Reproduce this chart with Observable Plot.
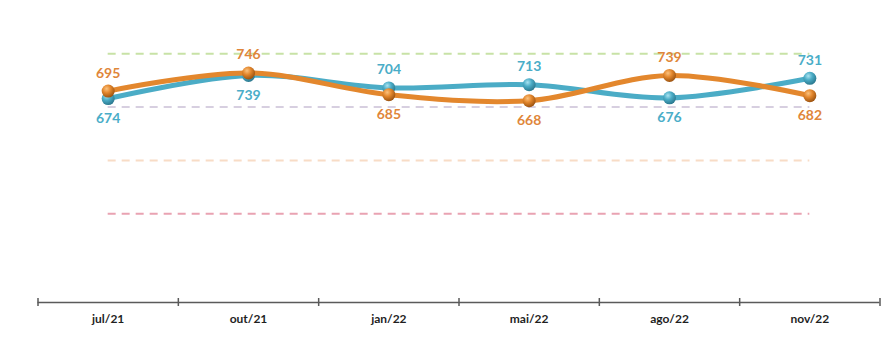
<!DOCTYPE html>
<html><head><meta charset="utf-8">
<script src="https://cdn.jsdelivr.net/npm/d3@7"></script>
<script src="https://cdn.jsdelivr.net/npm/@observablehq/plot@0.6"></script>
<style>body{margin:0;background:#fff} svg{display:block}</style>
</head><body><div id="chart"></div>
<script>
const categories = ["jul/21","out/21","jan/22","mai/22","ago/22","nov/22"];
const seriesBlue = [674,739,704,713,676,731];
const seriesOrange = [695,746,685,668,739,682];
const thresholds = [800,650,500,350];
const thresholdColors = ["#C8E2A6","#D7CFE0","#F8DCC6","#E9A3B2"];
const blue = "#4BACC6", orange = "#E3872D";
const blueText = "#4AADC8", orangeText = "#E0863A";

const rows = [];
categories.forEach((c, i) => {
  rows.push({i, series: "blue", v: seriesBlue[i], above: seriesBlue[i] >= seriesOrange[i]});
  rows.push({i, series: "orange", v: seriesOrange[i], above: seriesOrange[i] > seriesBlue[i]});
});
const blueRows = rows.filter(d => d.series === "blue");
const orangeRows = rows.filter(d => d.series === "orange");
const bounds = d3.range(-0.5, categories.length, 1);
const n = categories.length - 1;

const labelFont = {fontFamily: "Lato, sans-serif", fontWeight: "bold", fontSize: 14};

const marks = [];
thresholds.forEach((t, k) => {
  marks.push(Plot.ruleY([t], {x1: () => 0, x2: () => n, stroke: thresholdColors[k], strokeWidth: 2, strokeDasharray: "8,6"}));
});
marks.push(
  Plot.ruleY([100], {stroke: "#5a5a5a", strokeWidth: 1.5}),
  Plot.axisX({ticks: bounds, tickSize: 4, tickFormat: () => "", label: null, stroke: "#5a5a5a", strokeWidth: 1.5}),
  Plot.axisX({ticks: bounds, tickSize: -4, tickFormat: () => "", label: null, stroke: "#5a5a5a", strokeWidth: 1.5}),
  Plot.text(categories, {x: (d, i) => i, y: () => 100, dy: 17, text: d => d, fill: "#1f1f1f", fontFamily: "Lato, sans-serif", fontWeight: "bold", fontSize: 12}),
  Plot.line(blueRows, {x: "i", y: "v", stroke: blue, strokeWidth: 5, curve: "catmull-rom"}),
  Plot.dot(blueRows, {x: "i", y: "v", r: 6.5, fill: "url(#gb)", stroke: "none"}),
  Plot.line(orangeRows, {x: "i", y: "v", stroke: orange, strokeWidth: 5, curve: "catmull-rom"}),
  Plot.dot(orangeRows, {x: "i", y: "v", r: 6.5, fill: "url(#go)", stroke: "none"}),
  Plot.text(blueRows.filter(d => d.above), {x: "i", y: "v", text: d => String(d.v), dy: -18, fill: blueText, ...labelFont}),
  Plot.text(blueRows.filter(d => !d.above), {x: "i", y: "v", text: d => String(d.v), dy: 20, fill: blueText, ...labelFont}),
  Plot.text(orangeRows.filter(d => d.above), {x: "i", y: "v", text: d => String(d.v), dy: -18, fill: orangeText, ...labelFont}),
  Plot.text(orangeRows.filter(d => !d.above), {x: "i", y: "v", text: d => String(d.v), dy: 20, fill: orangeText, ...labelFont})
);

const chart = Plot.plot({
  width: 882, height: 343,
  marginTop: 0, marginBottom: 41, marginLeft: 37.5, marginRight: 2.5,
  x: {domain: [-0.5, categories.length - 0.5], axis: null},
  y: {domain: [100, 950], axis: null},
  style: {fontFamily: "Lato, sans-serif", background: "#fff"},
  marks
});

const svg = d3.select(chart);
const defs = svg.insert("defs", ":first-child");
function grad(id, c0, c1, c2) {
  const g = defs.append("radialGradient").attr("id", id).attr("cx", "38%").attr("cy", "32%").attr("r", "70%");
  g.append("stop").attr("offset", "0%").attr("stop-color", c0);
  g.append("stop").attr("offset", "45%").attr("stop-color", c1);
  g.append("stop").attr("offset", "100%").attr("stop-color", c2);
}
grad("gb", "#a9e3f1", "#4BACC6", "#2a778d");
grad("go", "#fbc27e", "#E3872D", "#9a5210");

document.getElementById("chart").appendChild(chart);
</script>
</body></html>
